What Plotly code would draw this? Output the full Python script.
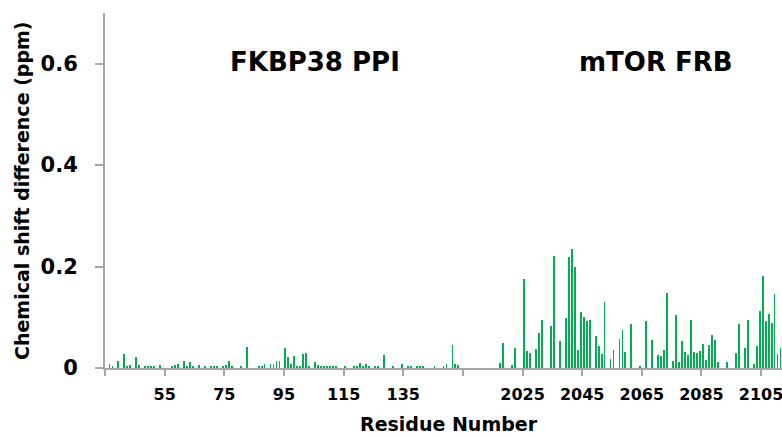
import plotly.graph_objects as go

# FKBP38 PPI residues and chemical shift differences (ppm)
fkbp_res = [36, 37, 39, 41, 42, 43, 45, 46, 48, 49, 50, 51, 53, 57, 58, 59, 61, 62, 63, 64,
            66, 68, 70, 71, 72, 74, 75, 76, 77, 80, 82, 86, 87, 88, 90, 91, 92, 93, 95, 96,
            97, 98, 99, 100, 101, 102, 103, 105, 106, 107, 108, 109, 110, 111, 112, 115, 118,
            119, 120, 121, 122, 123, 125, 126, 128, 131, 134, 136, 137, 139, 140, 141, 145,
            148, 149, 151, 152, 153]
fkbp_val = [0.008, 0.003, 0.014, 0.028, 0.003, 0.005, 0.022, 0.006, 0.002, 0.002, 0.002, 0.002,
            0.005, 0.003, 0.005, 0.008, 0.013, 0.003, 0.011, 0.002, 0.006, 0.003, 0.002, 0.002,
            0.002, 0.003, 0.005, 0.014, 0.003, 0.003, 0.042, 0.003, 0.003, 0.008, 0.007, 0.007,
            0.0145, 0.0145, 0.039, 0.022, 0.007, 0.023, 0.003, 0.004, 0.028, 0.029, 0.002,
            0.0125, 0.006, 0.003, 0.003, 0.003, 0.003, 0.002, 0.002, 0.002, 0.003, 0.002, 0.009,
            0.003, 0.007, 0.002, 0.004, 0.003, 0.0255, 0.002, 0.007, 0.002, 0.002, 0.002, 0.002,
            0.002, 0.003, 0.003, 0.0085, 0.046, 0.008, 0.0065]

# mTOR FRB residues and chemical shift differences (ppm)
mtor_res = [2017, 2018, 2021, 2022, 2025, 2026, 2027, 2029, 2030, 2031, 2034, 2035, 2037, 2039,
            2040, 2041, 2042, 2043, 2044, 2045, 2046, 2047, 2049, 2050, 2051, 2052, 2054, 2055,
            2057, 2058, 2059, 2061, 2064, 2066, 2068, 2070, 2071, 2072, 2073, 2075, 2076, 2077,
            2078, 2079, 2080, 2081, 2082, 2083, 2084, 2085, 2086, 2087, 2088, 2089, 2090, 2093,
            2096, 2097, 2099, 2100, 2102, 2103, 2104, 2105, 2106, 2107, 2108, 2109, 2110, 2111]
mtor_val = [0.0105, 0.05, 0.005, 0.039, 0.175, 0.033, 0.029, 0.037, 0.070, 0.094, 0.082, 0.220,
            0.054, 0.0995, 0.219, 0.234, 0.200, 0.035, 0.111, 0.1015, 0.092, 0.095, 0.064, 0.043,
            0.0275, 0.130, 0.017, 0.035, 0.057, 0.075, 0.031, 0.087, 0.0045, 0.092, 0.055, 0.025,
            0.023, 0.036, 0.147, 0.013, 0.104, 0.011, 0.054, 0.031, 0.026, 0.094, 0.031, 0.030,
            0.033, 0.048, 0.015, 0.046, 0.065, 0.056, 0.011, 0.011, 0.029, 0.086, 0.040, 0.094,
            0.0085, 0.043, 0.113, 0.182, 0.093, 0.107, 0.088, 0.146, 0.027, 0.039]

# axis segments: FKBP starts at residue 35, mTOR section starts at 2005 (index 120)
fkbp_start = 35
mtor_start = 2005
mtor_offset = 120

tick_labels = ["", "55", "75", "95", "115", "135", "", "2025", "2045", "2065", "2085", "2105"]
y_ticks = [0, 0.2, 0.4, 0.6]
y_tick_labels = ["0", "0.2", "0.4", "0.6"]

x_fkbp = [r - fkbp_start + 0.5 for r in fkbp_res]
x_mtor = [r - mtor_start + mtor_offset + 0.5 for r in mtor_res]
tick_pos = [20 * i for i in range(len(tick_labels))]

GREEN = "#00b050"
GREY = "#a6a6a6"
FONT = "DejaVu Sans"

L, R, T, B = 105, 0, 13, 70
W, H = 782, 438
PW, PH = W - L - R, H - T - B

fig = go.Figure()
fig.add_trace(go.Bar(x=x_fkbp + x_mtor, y=fkbp_val + mtor_val, width=0.3,
                     marker=dict(color=GREEN, line=dict(width=0)), showlegend=False))

fig.update_layout(
    width=W, height=H,
    margin=dict(l=L, r=R, t=T, b=B, autoexpand=False),
    plot_bgcolor="white", paper_bgcolor="white",
    font=dict(family=FONT, size=18, color="black"),
    bargap=0,
    xaxis=dict(range=[0, 227.0], tickvals=tick_pos, ticktext=tick_labels, automargin=False,
               showgrid=False, zeroline=False, showline=True, linecolor=GREY, linewidth=2,
               ticks="outside", ticklen=6, tickwidth=2, tickcolor=GREY,
               tickfont=dict(family=FONT, size=16, weight="bold", color="black"),
               ticklabelstandoff=5, ticklabeloverflow="allow"),
    yaxis=dict(range=[0, 0.7], tickvals=y_ticks, ticktext=y_tick_labels, automargin=False,
               showgrid=False, zeroline=False, showline=True, linecolor=GREY, linewidth=2,
               ticks="outside", ticklen=8, tickwidth=2, tickcolor=GREY,
               tickfont=dict(family=FONT, size=21, weight="bold", color="black"),
               ticklabelstandoff=13),
)

def px_x(px):
    return (px - L) / PW

def px_y(py):
    return (H - B - py) / PH

fig.add_annotation(text="FKBP38 PPI", x=px_x(315), y=px_y(62), xref="paper", yref="paper",
                   showarrow=False, xanchor="center", yanchor="middle",
                   font=dict(family=FONT, size=26, weight="bold"))
fig.add_annotation(text="mTOR FRB", x=px_x(656), y=px_y(62), xref="paper", yref="paper",
                   showarrow=False, xanchor="center", yanchor="middle",
                   font=dict(family=FONT, size=26, weight="bold"))
fig.add_annotation(text="Residue Number", x=px_x(449.5), y=px_y(424), xref="paper", yref="paper",
                   showarrow=False, xanchor="center", yanchor="middle",
                   font=dict(family=FONT, size=19, weight="bold"))
fig.add_annotation(text="Chemical shift difference (ppm)", x=px_x(22), y=px_y(191),
                   xref="paper", yref="paper", showarrow=False, textangle=-90,
                   xanchor="center", yanchor="middle",
                   font=dict(family=FONT, size=19, weight="bold"))

fig.write_html("out.html", config={"displayModeBar": False},
               post_script="document.body.style.margin='0px';")
